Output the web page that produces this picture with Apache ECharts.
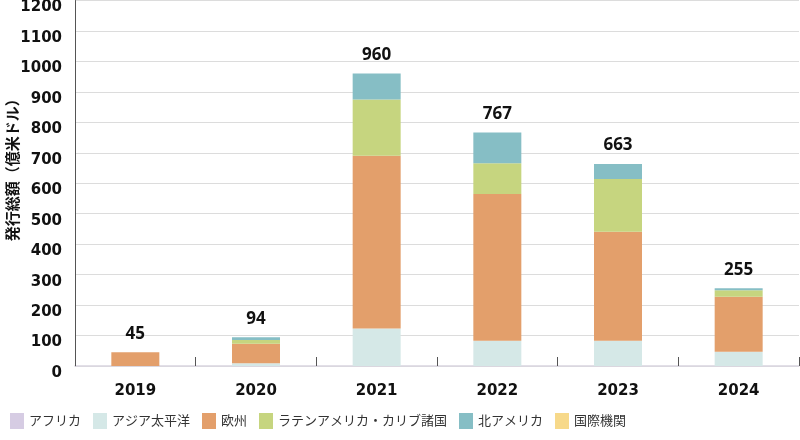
<!DOCTYPE html>
<html>
<head>
<meta charset="utf-8">
<script src="https://cdn.jsdelivr.net/npm/echarts@6/dist/echarts.min.js"></script>
<style>
html,body{margin:0;padding:0;background:#fff;}
#chart{width:800px;height:440px;}
</style>
</head>
<body>
<div id="chart"></div>
<script>
var years = ['2019', '2020', '2021', '2022', '2023', '2024'];
var africa = [0, 0, 0, 0, 0, 0];
var asiaPacific = [0, 9, 123, 83, 83, 47];
var europe = [45, 64, 567, 482, 358, 180];
var latinAmerica = [0, 12, 185, 101, 173, 22];
var northAmerica = [0, 9, 85, 101, 49, 6];
var intlOrgs = [0, 0, 0, 0, 0, 0];
var totals = [45, 94, 960, 767, 663, 255];
var yTicks = [0, 100, 200, 300, 400, 500, 600, 700, 800, 900, 1000, 1100, 1200];

var seriesNames = ['アフリカ', 'アジア太平洋', '欧州', 'ラテンアメリカ・カリブ諸国', '北アメリカ', '国際機関'];
var seriesData = [africa, asiaPacific, europe, latinAmerica, northAmerica, intlOrgs];
var colors = ['#D6CCE3', '#D5E8E7', '#E39F6B', '#C6D57F', '#86BEC5', '#F7D98A'];

var font = '"Noto Sans", "Noto Sans CJK JP", sans-serif';
var numFont = '"DejaVu Sans", "Noto Sans", sans-serif';
var series = seriesNames.map(function (n, i) {
  return {
    name: n, type: 'bar', stack: 'total', barWidth: 48, barGap: '-100%',
    itemStyle: { color: colors[i] },
    data: seriesData[i]
  };
});
series.push({
  name: '合計', type: 'bar', barWidth: 48, barGap: '-100%', silent: true, z: 1,
  itemStyle: { color: 'rgba(0,0,0,0)' },
  label: {
    show: true, position: 'top', distance: 10,
    fontFamily: font, fontWeight: 'bold', fontSize: 17, color: '#111'
  },
  data: totals
});

var chart = echarts.init(document.getElementById('chart'), null, { renderer: 'canvas' });
chart.setOption({
  animation: false,
  textStyle: { fontFamily: font },
  grid: { left: 75, right: 1, top: 0.5, bottom: 74, containLabel: false, outerBoundsMode: 'none' },
  legend: {
    data: seriesNames, left: 5, top: 408, icon: 'rect',
    itemWidth: 14, itemHeight: 16, itemGap: 12,
    textStyle: { fontFamily: font, fontSize: 13, color: '#333' }
  },
  xAxis: {
    type: 'category', data: years,
    axisLine: { lineStyle: { color: '#d9d5df', width: 1.5 } },
    axisTick: { show: true, inside: true, length: 9, lineStyle: { color: '#555' } },
    axisLabel: { margin: 18, fontFamily: numFont, fontWeight: 'bold', fontSize: 15, color: '#111' }
  },
  yAxis: {
    type: 'value', min: 0, max: 1200, interval: 100,
    name: '発行総額（億米ドル）', nameLocation: 'middle', nameGap: 54, nameRotate: 90,
    nameMoveOverlap: false,
    nameTextStyle: { fontFamily: font, fontWeight: 'bold', fontSize: 15, color: '#111', padding: [0, 0, 0, 34] },
    axisLine: { show: true, lineStyle: { color: '#555', width: 1 } },
    axisTick: { show: false },
    splitLine: { lineStyle: { color: '#dcdcdc', width: 1.2 } },
    axisLabel: {
      margin: 13, fontFamily: numFont, fontWeight: 'bold', fontSize: 15, color: '#111',
      verticalAlign: 'top', lineHeight: 14,
      formatter: function (v) { return yTicks.indexOf(v) >= 0 ? String(v) : ''; }
    }
  },
  series: series
});
</script>
</body>
</html>
